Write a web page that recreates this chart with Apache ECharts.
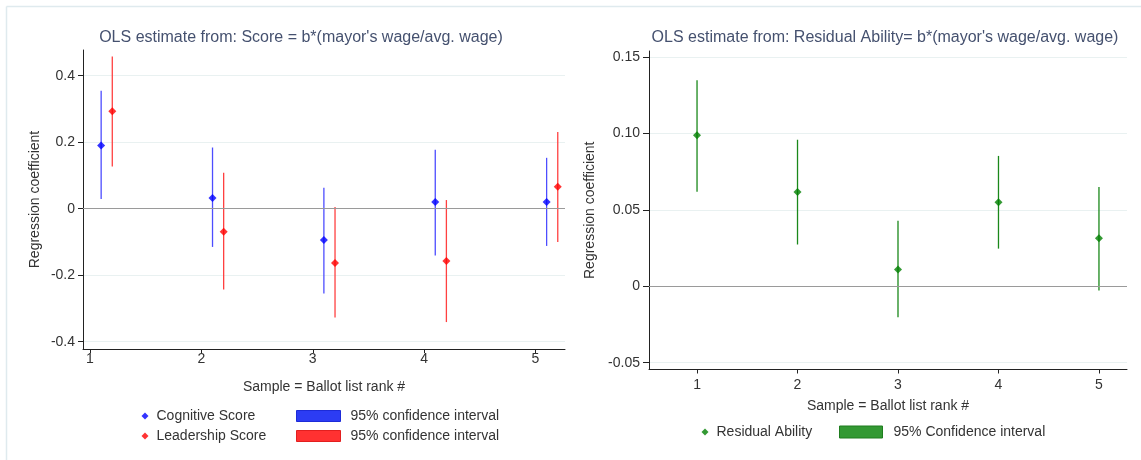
<!DOCTYPE html>
<html>
<head>
<meta charset="utf-8">
<script src="https://cdn.jsdelivr.net/npm/echarts@6.0.0/dist/echarts.min.js"></script>
<style>
  html, body { margin: 0; padding: 0; background: #fff; }
  #main { width: 1141px; height: 460px; }
</style>
</head>
<body>
<div id="main"></div>
<script>
// ballot list rank samples
var ranks = [1, 2, 3, 4, 5];

// left panel: Score = b*(mayor's wage/avg. wage)
var cogEst  = [0.190, 0.032, -0.094, 0.020, 0.020];
var cogLow  = [0.029, -0.115, -0.255, -0.141, -0.112];
var cogHigh = [0.355, 0.184, 0.063, 0.177, 0.153];

var leadEst  = [0.293, -0.069, -0.163, -0.157, 0.066];
var leadLow  = [0.127, -0.243, -0.327, -0.341, -0.100];
var leadHigh = [0.458, 0.108, 0.005, 0.026, 0.231];

// right panel: Residual Ability = b*(mayor's wage/avg. wage)
var resEst  = [0.099, 0.0617, 0.011, 0.055, 0.0315];
var resLow  = [0.062, 0.0274, -0.0203, 0.0247, -0.0028];
var resHigh = [0.135, 0.096, 0.043, 0.0854, 0.065];

// tick labels
var leftYTicks = [-0.4, -0.2, 0, 0.2, 0.4];
var leftYLabels = ['-0.4', '-0.2', '0', '0.2', '0.4'];
var rightYTicks = [-0.05, 0, 0.05, 0.10, 0.15];
var rightYLabels = ['-0.05', '0', '0.05', '0.10', '0.15'];

var cogShift = 0.1, leadShift = 0.2;

function pts(est, shift) {
    return ranks.map(function (r, i) { return [r + shift, est[i]]; });
}
function bars(low, high, shift) {
    return ranks.map(function (r, i) { return [r + shift, low[i], high[i]]; });
}
function tickLabel(ticks, labels) {
    return function (v) {
        for (var i = 0; i < ticks.length; i++) {
            if (Math.abs(ticks[i] - v) < 1e-9) return labels[i];
        }
        return '';
    };
}
function ciLine(params, api) {
    var a = api.coord([api.value(0), api.value(2)]);
    var b = api.coord([api.value(0), api.value(1)]);
    return {
        type: 'line',
        shape: { x1: a[0], y1: a[1], x2: b[0], y2: b[1] },
        style: { stroke: api.visual('color'), lineWidth: 1.3 }
    };
}

var font = 'Arial, "Liberation Sans", sans-serif';
var txt = { fontFamily: font, fontSize: 14, color: '#333' };
var gridLine = { show: true, lineStyle: { color: '#e9f1f1', width: 1 } };
var axLine = { show: true, onZero: false, lineStyle: { color: '#222', width: 1 } };
var zeroLine = {
    silent: true, symbol: 'none', label: { show: false },
    lineStyle: { color: '#9a9a9a', width: 1.2, type: 'solid' },
    data: [{ yAxis: 0 }]
};

var chart = echarts.init(document.getElementById('main'));
chart.setOption({
    animation: false,
    textStyle: { fontFamily: font },
    title: [
        {
            text: "OLS estimate from: Score = b*(mayor's wage/avg. wage)",
            left: 296, top: 25, textAlign: 'center',
            textStyle: { fontFamily: font, fontSize: 16, fontWeight: 'normal', color: '#45516f' }
        },
        {
            text: "OLS estimate from: Residual Ability= b*(mayor's wage/avg. wage)",
            left: 880, top: 25, textAlign: 'center',
            textStyle: { fontFamily: font, fontSize: 16, fontWeight: 'normal', color: '#45516f' }
        }
    ],
    graphic: [
        { type: 'line', shape: { x1: 6.5, y1: 6.5, x2: 1141, y2: 6.5 }, style: { stroke: '#dfeaee', lineWidth: 1.5 }, silent: true },
        { type: 'line', shape: { x1: 6.5, y1: 6.5, x2: 6.5, y2: 460 }, style: { stroke: '#dfeaee', lineWidth: 1.5 }, silent: true }
    ],
    grid: [
        { left: 83, top: 50, width: 482, height: 299 },
        { left: 649, top: 51, width: 478, height: 318.5 }
    ],
    xAxis: [
        {
            gridIndex: 0, type: 'value', min: 0.937, max: 5.265,
            name: 'Sample = Ballot list rank #', nameLocation: 'middle', nameGap: 31,
            nameTextStyle: txt,
            axisLine: axLine,
            axisTick: { show: true, length: 4, customValues: ranks, lineStyle: { color: '#222' } },
            axisLabel: { customValues: ranks, margin: 3, fontFamily: font, fontSize: 14, color: '#333' },
            splitLine: { show: false }
        },
        {
            gridIndex: 1, type: 'value', min: 0.522, max: 5.279,
            name: 'Sample = Ballot list rank #', nameLocation: 'middle', nameGap: 30,
            nameTextStyle: txt,
            axisLine: axLine,
            axisTick: { show: true, length: 4, customValues: ranks, lineStyle: { color: '#222' } },
            axisLabel: { customValues: ranks, margin: 9, fontFamily: font, fontSize: 14, color: '#333' },
            splitLine: { show: false }
        }
    ],
    yAxis: [
        {
            gridIndex: 0, type: 'value', min: -0.422, max: 0.4773,
            name: 'Regression coefficient', nameLocation: 'middle', nameGap: 41, nameRotate: 90,
            nameTextStyle: txt,
            axisLine: axLine,
            axisTick: { show: true, length: 5, customValues: leftYTicks, lineStyle: { color: '#222' } },
            axisLabel: { customValues: leftYTicks, margin: 8, formatter: tickLabel(leftYTicks, leftYLabels),
                         fontFamily: font, fontSize: 14, color: '#333' },
            splitLine: gridLine
        },
        {
            gridIndex: 1, type: 'value', min: -0.05445, max: 0.1541,
            name: 'Regression coefficient', nameLocation: 'middle', nameGap: 52, nameRotate: 90,
            nameTextStyle: txt,
            axisLine: axLine,
            axisTick: { show: true, length: 6, customValues: rightYTicks, lineStyle: { color: '#222' } },
            axisLabel: { customValues: rightYTicks, margin: 9, formatter: tickLabel(rightYTicks, rightYLabels),
                         fontFamily: font, fontSize: 14, color: '#333' },
            splitLine: gridLine
        }
    ],
    legend: [
        {
            orient: 'vertical', left: 136.5, top: 404, itemWidth: 7, itemHeight: 7, itemGap: 6,
            icon: 'diamond',
            textStyle: { fontFamily: font, fontSize: 14, color: '#333', padding: [0, 0, 0, 3] },
            data: ['Cognitive Score', 'Leadership Score']
        },
        {
            orient: 'vertical', left: 291, top: 404, itemWidth: 44, itemHeight: 11, itemGap: 6,
            textStyle: { fontFamily: font, fontSize: 14, color: '#333', padding: [0, 0, 0, 5] },
            formatter: function () { return '95% confidence interval'; },
            data: [
                { name: 'Cognitive CI', icon: 'rect', itemStyle: { color: '#2c3cf4', borderColor: '#1d2bd8', borderWidth: 1 } },
                { name: 'Leadership CI', icon: 'rect', itemStyle: { color: '#ff3131', borderColor: '#e21f1f', borderWidth: 1 } }
            ]
        },
        {
            orient: 'horizontal', left: 696.5, top: 420, itemWidth: 7, itemHeight: 7,
            icon: 'diamond',
            textStyle: { fontFamily: font, fontSize: 14, color: '#333', padding: [0, 0, 0, 3] },
            data: ['Residual Ability']
        },
        {
            orient: 'horizontal', left: 834, top: 420, itemWidth: 43, itemHeight: 12,
            textStyle: { fontFamily: font, fontSize: 14, color: '#333', padding: [0, 0, 0, 6] },
            formatter: function () { return '95% Confidence interval'; },
            data: [
                { name: 'Residual CI', icon: 'rect', itemStyle: { color: '#339933', borderColor: '#1f7d1f', borderWidth: 1 } }
            ]
        }
    ],
    series: [
        {
            name: 'Cognitive CI', type: 'custom', xAxisIndex: 0, yAxisIndex: 0,
            renderItem: ciLine, itemStyle: { color: '#4d4dff' },
            encode: { x: 0, y: [1, 2] }, data: bars(cogLow, cogHigh, cogShift),
            markLine: zeroLine, z: 2
        },
        {
            name: 'Leadership CI', type: 'custom', xAxisIndex: 0, yAxisIndex: 0,
            renderItem: ciLine, itemStyle: { color: '#ff4040' },
            encode: { x: 0, y: [1, 2] }, data: bars(leadLow, leadHigh, leadShift), z: 2
        },
        {
            name: 'Cognitive Score', type: 'scatter', xAxisIndex: 0, yAxisIndex: 0,
            symbol: 'diamond', symbolSize: 8, itemStyle: { color: '#0000ff' },
            data: pts(cogEst, cogShift), z: 3
        },
        {
            name: 'Leadership Score', type: 'scatter', xAxisIndex: 0, yAxisIndex: 0,
            symbol: 'diamond', symbolSize: 8, itemStyle: { color: '#ff0000' },
            data: pts(leadEst, leadShift), z: 3
        },
        {
            name: 'Residual CI', type: 'custom', xAxisIndex: 1, yAxisIndex: 1,
            renderItem: ciLine, itemStyle: { color: '#1a881a' },
            encode: { x: 0, y: [1, 2] }, data: bars(resLow, resHigh, 0),
            markLine: zeroLine, z: 2
        },
        {
            name: 'Residual Ability', type: 'scatter', xAxisIndex: 1, yAxisIndex: 1,
            symbol: 'diamond', symbolSize: 8, itemStyle: { color: '#007f00' },
            data: pts(resEst, 0), z: 3
        }
    ]
});
</script>
</body>
</html>
